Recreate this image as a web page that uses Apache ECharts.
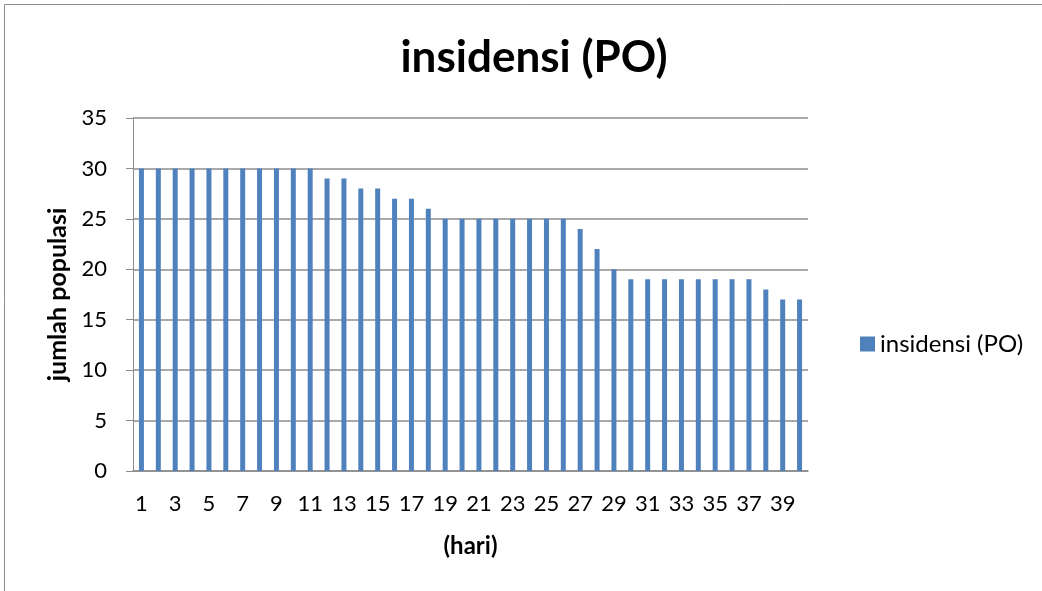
<!DOCTYPE html>
<html>
<head>
<meta charset="utf-8">
<script src="https://cdn.jsdelivr.net/npm/echarts@6/dist/echarts.min.js"></script>
<style>
html,body{margin:0;padding:0;background:#fff;}
#chart{width:1042px;height:591px;}
</style>
</head>
<body>
<div id="chart"></div>
<script>
const titleText = 'insidensi (PO)';
const seriesName = 'insidensi (PO)';
const yAxisName = 'jumlah populasi';
const xAxisName = '(hari)';
const days = [];
for (let i = 1; i <= 40; i++) days.push(String(i));
const values = [30,30,30,30,30,30,30,30,30,30,30,29,29,28,28,27,27,26,25,25,25,25,25,25,25,25,24,22,20,19,19,19,19,19,19,19,19,18,17,17];

const FONT = 'Lato, "Open Sans", sans-serif';
const chart = echarts.init(document.getElementById('chart'));
chart.setOption({
  animation: false,
  backgroundColor: '#ffffff',
  title: {
    text: titleText,
    left: 529, top: 31,
    textAlign: 'center',
    textStyle: {fontFamily: FONT, fontWeight: 'bold', fontSize: 44, color: '#000'}
  },
  graphic: [{
    type: 'rect', shape: {x: 4.5, y: 4.5, width: 1200, height: 800},
    style: {fill: 'none', stroke: '#8c8c8c', lineWidth: 1}, silent: true
  }],
  legend: {
    data: [seriesName],
    left: 855, top: 327,
    itemWidth: 15, itemHeight: 15,
    icon: 'rect',
    textStyle: {fontFamily: FONT, fontSize: 24, color: '#000'}
  },
  grid: {left: 133, right: 234, top: 118, bottom: 120, containLabel: false},
  xAxis: {
    type: 'category', data: days,
    name: xAxisName, nameLocation: 'middle', nameGap: 63,
    nameTextStyle: {fontFamily: FONT, fontWeight: 'bold', fontSize: 24, color: '#000'},
    axisLine: {lineStyle: {color: '#8c8c8c', width: 1.5}},
    axisTick: {show: false},
    axisLabel: {interval: 1, margin: 22, fontFamily: FONT, fontSize: 22, color: '#000'}
  },
  yAxis: {
    type: 'value', min: 0, max: 35, interval: 5,
    name: yAxisName, nameLocation: 'middle', nameGap: 60,
    nameTextStyle: {fontFamily: FONT, fontWeight: 'bold', fontSize: 25, color: '#000'},
    axisLine: {show: true, lineStyle: {color: '#8c8c8c', width: 1}},
    axisTick: {show: true, length: 7, lineStyle: {color: '#8c8c8c'}},
    axisLabel: {margin: 26, fontFamily: FONT, fontSize: 22, color: '#000'},
    splitLine: {lineStyle: {color: '#8c8c8c', width: 1.5}}
  },
  series: [{
    name: seriesName, type: 'bar', data: values,
    barWidth: 5,
    itemStyle: {color: '#4f81bd'}
  }]
});
</script>
</body>
</html>
